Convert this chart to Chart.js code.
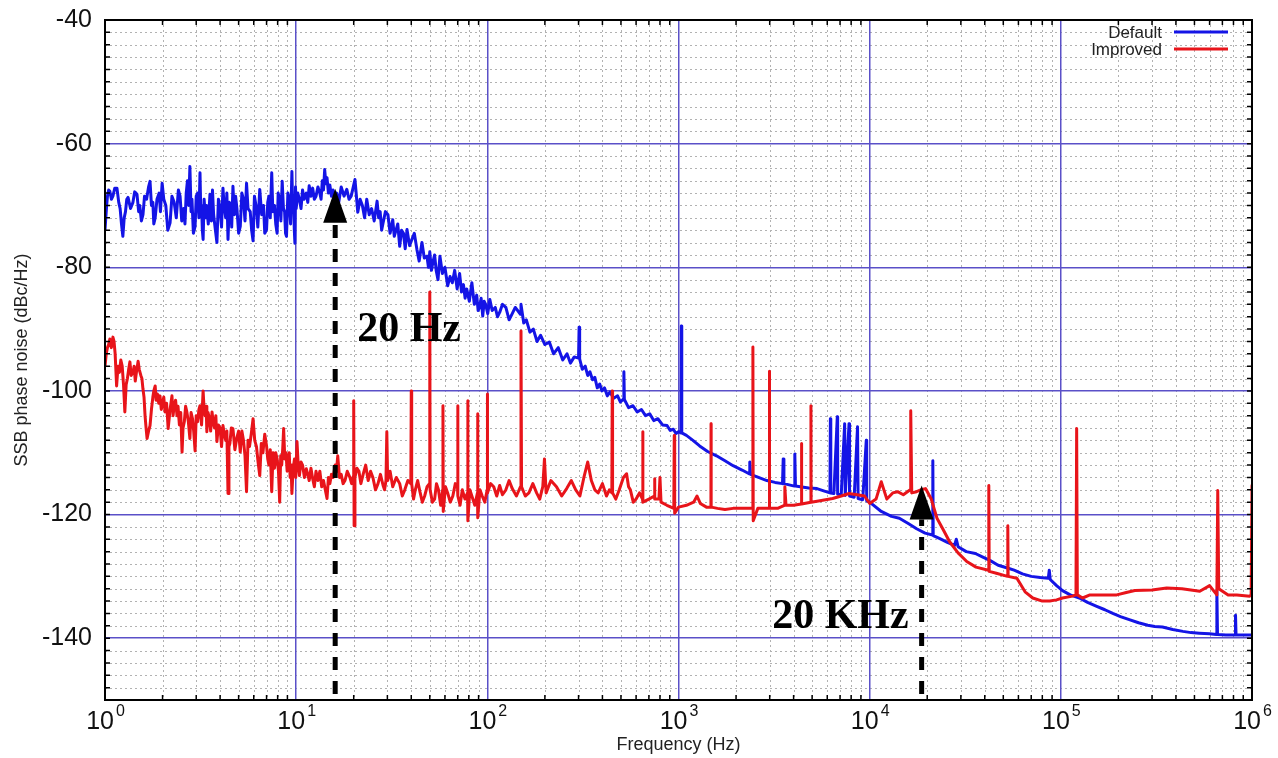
<!DOCTYPE html>
<html>
<head>
<meta charset="utf-8">
<title>SSB phase noise</title>
<script src="https://cdn.jsdelivr.net/npm/chart.js@4.4.1/dist/chart.umd.min.js"></script>
<style>
    html, body { margin: 0; padding: 0; background: #fff; }
    #wrap { width: 1278px; height: 758px; }
</style>
</head>
<body>
<div id="wrap"><canvas id="noiseChart" width="1278" height="758"></canvas></div>
<script>
// axis ticks
const decadeTicks = [1, 10, 100, 1000, 10000, 100000, 1000000];
const dbTicks = [-140, -120, -100, -80, -60, -40];

// [frequency Hz, dBc/Hz]
const defaultPoints = [
    [1, -73.9], [1.02, -70], [1.03, -68.5], [1.045, -67.5], [1.06, -67.7], [1.08, -69], [1.1, -68.5], [1.125, -67.2],
    [1.155, -67.2], [1.18, -69.5], [1.2, -70.5], [1.22, -73], [1.24, -75], [1.26, -72], [1.28, -71], [1.3, -69],
    [1.32, -68.7], [1.36, -70.5], [1.4, -69.5], [1.43, -67.8], [1.47, -68.2], [1.5, -71], [1.52, -70], [1.55, -72.5],
    [1.58, -71.5], [1.61, -68.5], [1.65, -69], [1.69, -67], [1.72, -66.1], [1.75, -70], [1.78, -69.5], [1.8, -73],
    [1.83, -72], [1.87, -69], [1.92, -68], [1.95, -71], [1.99, -66.4], [2.03, -69], [2.08, -70], [2.13, -74],
    [2.19, -72.8], [2.24, -68.5], [2.3, -69.5], [2.36, -72], [2.42, -67.5], [2.47, -68.5], [2.52, -72.5], [2.58, -70.5],
    [2.62, -73], [2.66, -68], [2.7, -66], [2.74, -70], [2.78, -63.7], [2.82, -71], [2.85, -69], [2.9, -74.5],
    [2.96, -73.4], [3, -68.5], [3.05, -68], [3.1, -72], [3.14, -64.7], [3.17, -71], [3.2, -70], [3.23, -74],
    [3.26, -75.5], [3.3, -69], [3.35, -72], [3.4, -70], [3.47, -73], [3.54, -68.2], [3.6, -72.5], [3.65, -67.5],
    [3.7, -71.5], [3.78, -74], [3.85, -76], [3.92, -69], [4, -70.5], [4.07, -73.5], [4.14, -67.2], [4.2, -70],
    [4.28, -72], [4.34, -68], [4.4, -75.5], [4.47, -69.5], [4.55, -70], [4.6, -73.5], [4.67, -66.9], [4.75, -71.5],
    [4.82, -68.5], [4.9, -70.5], [5, -74.5], [5.1, -73.4], [5.2, -68], [5.3, -69], [5.4, -72.5], [5.5, -66.4],
    [5.6, -70.5], [5.75, -71], [5.85, -74], [5.95, -75.7], [6.05, -68.5], [6.2, -70.5], [6.3, -73.5], [6.45, -67.4],
    [6.6, -71.5], [6.75, -70], [6.85, -74.5], [7, -73.9], [7.1, -69.5], [7.2, -68.5], [7.32, -72], [7.45, -64.7],
    [7.55, -71], [7.7, -70], [7.82, -73], [7.95, -74.5], [8.05, -68], [8.2, -69], [8.32, -72.5], [8.45, -66.1],
    [8.58, -70.5], [8.7, -71], [8.8, -74.5], [8.9, -75], [9.05, -68], [9.2, -69], [9.35, -73], [9.5, -64.5],
    [9.6, -71], [9.7, -70], [9.78, -74], [9.85, -76.1], [9.92, -67], [10, -70.5], [10.2, -68], [10.4, -69],
    [10.6, -70.5], [10.8, -67.5], [11, -69], [11.3, -68], [11.5, -69.5], [11.7, -66.8], [11.95, -68.5], [12.2, -67.2],
    [12.45, -69], [12.7, -68.5], [13, -67], [13.3, -68], [13.5, -69], [13.7, -66], [13.9, -67.5], [14.1, -64.2],
    [14.3, -66.5], [14.5, -65.5], [14.75, -68], [15, -66.7], [15.3, -68.5], [15.6, -67.5], [16, -69], [16.3, -68],
    [16.7, -69.5], [17.2, -67], [17.8, -68.5], [18.4, -67.4], [18.9, -69], [19.4, -68.5], [19.9, -67], [20.3, -65.8],
    [20.6, -68], [21, -71.1], [21.6, -69], [22.2, -70], [22.8, -72], [23.4, -69], [24.1, -71.5], [24.8, -70.5],
    [25.6, -72.5], [26.5, -69.3], [27, -72], [27.5, -71], [28, -74], [28.5, -72.8], [29.3, -71], [30.2, -71.5],
    [31, -74.5], [32, -72.3], [32.6, -75], [33.3, -74], [34, -73], [34.8, -76.6], [35.6, -74], [36.4, -74.5],
    [37.2, -77], [38, -73.9], [39.2, -76.5], [40.3, -75.5], [41.5, -74.5], [42.8, -77.1], [44, -79], [45.5, -76],
    [46.8, -78.5], [48.3, -78.2], [49.2, -80], [50, -77.5], [51, -80.5], [51.9, -79.2], [53, -78], [54, -80.5],
    [55.2, -82], [56.5, -78.2], [58.2, -81], [60, -80], [62, -83], [63.8, -81.5], [65.6, -82.5], [67.5, -80.5],
    [69.5, -83.5], [71.6, -81], [73.3, -84], [75, -82.8], [76.5, -85], [78, -83.5], [80.5, -85.5], [83, -82.5],
    [85.5, -86], [88, -84.5], [89.5, -87], [91, -86.5], [92.8, -85], [94.6, -87.9], [96.3, -85.5], [98, -86],
    [100.5, -87.5], [103, -85.2], [106, -87], [110, -86.5], [113, -88], [116, -87.3], [120, -86], [125, -86.5],
    [130, -88.5], [135, -87.5], [140, -86.5], [149, -87.6], [150, -86], [155, -89], [160, -88.5], [167, -90.5],
    [174, -90], [182, -92], [190, -91], [200, -92.5], [211, -92.1], [222, -94], [235, -93], [248, -95],
    [261, -94], [272, -95.5], [285, -94.5], [300, -94.7], [302, -89.7], [304, -94.8], [314, -96.5], [325, -96],
    [335, -97.5], [344, -96.9], [355, -98.2], [365, -97.8], [376, -99.5], [387, -98.9], [398, -100], [410, -99.5],
    [424, -100.8], [438, -100.2], [458, -101.2], [480, -100.8], [497, -101.8], [515, -101.3], [518, -96.9], [521, -101.4],
    [548, -102.7], [578, -102.4], [608, -103.4], [640, -103], [672, -104], [707, -103.7], [742, -104.8], [780, -104.5],
    [825, -105.5], [871, -105.6], [905, -106.4], [940, -106.2], [970, -106.9], [1000, -106.6], [1030, -106.8], [1035, -89.5],
    [1040, -106.8], [1100, -107.2], [1190, -108], [1290, -108.9], [1420, -109.8], [1580, -110.5], [1750, -111.3], [1930, -112.1],
    [2150, -112.8], [2340, -113.4], [2360, -111.5], [2380, -113.5], [2620, -114], [2900, -114.5], [3200, -114.8], [3500, -115],
    [3530, -111], [3560, -115], [4040, -115.4], [4060, -110.2], [4090, -115.4], [4330, -115.5], [4800, -115.7], [5300, -115.8],
    [5800, -116.2], [6200, -116.5], [6230, -104.5], [6260, -116.5], [6500, -116.6], [6770, -104.2], [6800, -116.7], [7100, -116.8],
    [7400, -105.3], [7450, -116.9], [7800, -105.3], [7850, -117], [8300, -117.2], [8640, -105.8], [8700, -117.4], [9200, -117.6],
    [9600, -108], [9650, -117.8], [10000, -118], [11500, -119.5], [13000, -120.3], [14300, -120.6], [16000, -121.5], [17600, -122.3],
    [19500, -123], [21300, -123.3], [21400, -111.3], [21500, -123.4], [23300, -123.9], [25500, -124.5], [27800, -125], [28400, -124],
    [29000, -125.2], [32000, -126], [35700, -126.3], [38600, -126.8], [43000, -127.5], [47000, -128.2], [52000, -128.6], [57000, -129],
    [63000, -129.6], [70000, -130], [78000, -130.2], [86000, -130.3], [87000, -129], [88000, -130.5], [95000, -131.5], [102000, -132.3],
    [112000, -133], [125000, -133.5], [138000, -134.2], [153000, -134.8], [170000, -135.4], [187000, -136], [205000, -136.5], [228000, -137],
    [255000, -137.5], [285000, -137.9], [310000, -138.1], [340000, -138.2], [385000, -138.6], [435000, -138.9], [480000, -139.1], [530000, -139.2],
    [600000, -139.3], [650000, -139.4], [655000, -132.4], [660000, -139.4], [730000, -139.5], [815000, -139.5], [820000, -136.3], [825000, -139.5],
    [900000, -139.5], [1000000, -139.5],
];

const improvedPoints = [
    [1, -96], [1.015, -94], [1.03, -93], [1.045, -92.5], [1.06, -91.6], [1.08, -93], [1.1, -91.3], [1.115, -92],
    [1.13, -94], [1.15, -99.2], [1.17, -96], [1.19, -97], [1.21, -95], [1.23, -96], [1.25, -99], [1.27, -103.4],
    [1.29, -99], [1.31, -98], [1.33, -96.5], [1.35, -95.3], [1.37, -97.5], [1.4, -97], [1.42, -96], [1.44, -98.4],
    [1.46, -97], [1.49, -95.2], [1.51, -96.5], [1.54, -97.5], [1.56, -98], [1.58, -99.7], [1.6, -101], [1.62, -104],
    [1.64, -106], [1.66, -107.7], [1.69, -106.5], [1.72, -105.6], [1.75, -103], [1.78, -101], [1.8, -100], [1.83, -99.2],
    [1.85, -101.5], [1.88, -100.5], [1.91, -102], [1.94, -100.8], [1.97, -103], [2, -102], [2.03, -101], [2.06, -103.4],
    [2.1, -102], [2.14, -106.1], [2.19, -103], [2.24, -100.8], [2.27, -104], [2.3, -102.5], [2.34, -101.5], [2.38, -104],
    [2.41, -102.5], [2.45, -105.5], [2.49, -103.5], [2.53, -109.9], [2.56, -106], [2.6, -105], [2.64, -102.5], [2.68, -103.4],
    [2.73, -105], [2.78, -107.7], [2.82, -103.5], [2.87, -104.5], [2.91, -106.5], [2.96, -109.7], [3, -104], [3.05, -105],
    [3.1, -103], [3.14, -102.4], [3.2, -105.5], [3.26, -100], [3.3, -103], [3.34, -104], [3.38, -102.5], [3.41, -106.6],
    [3.46, -103.5], [3.52, -104.5], [3.57, -106.5], [3.63, -103.4], [3.68, -105], [3.74, -106], [3.8, -104], [3.85, -108.2],
    [3.92, -105.5], [4, -106], [4.07, -109], [4.14, -105.6], [4.21, -107], [4.28, -108], [4.34, -106.5], [4.4, -116.6],
    [4.45, -109], [4.5, -108.5], [4.58, -106], [4.67, -106.1], [4.78, -109.5], [4.9, -107.5], [5, -106.5], [5.1, -109.9],
    [5.2, -106.5], [5.3, -108], [5.4, -110.5], [5.5, -116.3], [5.6, -108], [5.7, -109], [5.82, -107], [5.95, -104.5],
    [6.07, -108], [6.2, -109], [6.32, -111.5], [6.45, -113.7], [6.57, -108.5], [6.7, -110], [6.85, -107], [7, -108.9],
    [7.1, -111], [7.2, -112], [7.32, -109.5], [7.45, -116.3], [7.57, -110], [7.7, -112.5], [7.82, -110], [7.95, -111],
    [8.08, -113], [8.2, -118], [8.3, -110.5], [8.4, -112], [8.5, -109.5], [8.6, -106.1], [8.72, -111], [8.85, -110],
    [8.97, -113], [9.1, -112.2], [9.2, -110], [9.3, -114], [9.4, -112], [9.5, -116.6], [9.65, -112.5], [9.8, -111],
    [9.95, -114], [10.1, -108.2], [10.25, -112], [10.4, -113.7], [10.6, -111.5], [10.8, -112], [11.05, -114], [11.3, -112.6],
    [11.5, -113.5], [11.7, -114.5], [11.95, -112.5], [12.2, -114.2], [12.45, -115.5], [12.7, -113], [13, -114.5], [13.3, -113],
    [13.6, -115.5], [13.9, -114.5], [14.2, -116], [14.5, -117.4], [14.75, -114], [15, -115], [15.3, -113.5], [15.6, -114],
    [15.8, -113], [16, -112], [16.25, -113], [16.5, -110.5], [16.85, -114], [17.2, -113.5], [17.6, -115], [18, -114.5],
    [18.5, -113], [19.1, -114], [19.5, -115], [19.9, -113.8], [20, -101.6], [20.1, -121.8], [20.3, -114], [20.8, -112.5],
    [21.3, -113], [21.8, -115], [22.4, -113.5], [23.1, -112], [23.8, -114.5], [24.5, -113], [25.2, -114], [26, -116],
    [26.8, -115], [27.6, -113.5], [28.5, -115.3], [29, -116], [29.5, -114.5], [29.8, -106.6], [30.1, -114.5], [31, -113],
    [32, -115.5], [33.4, -114], [34.8, -115], [35.9, -117], [37, -116], [38.4, -114.5], [39.8, -115], [40, -100],
    [40.2, -115], [41.1, -117.5], [42, -116], [43.2, -114.5], [44.4, -116.3], [45.7, -118], [47, -117], [48.4, -115.5],
    [49.8, -115], [50, -84], [50.2, -116], [51.6, -118], [53, -117.5], [54.2, -115], [55.5, -116], [57, -118.5],
    [58.4, -116], [58.6, -102.4], [58.8, -119.5], [60.4, -115.5], [62, -116.5], [64, -118], [66, -117], [68, -115],
    [69.8, -115.5], [70, -102.4], [70.2, -117], [72, -118.5], [74, -116], [76.4, -117.5], [78.8, -116.5], [79, -101.6],
    [79.2, -121], [81, -116], [83, -117], [86, -118.5], [88.8, -116.5], [89, -103.7], [89.2, -120.5], [91.5, -116],
    [94, -117], [97, -118], [99.8, -116], [100, -100.5], [100.3, -116.5], [104, -115], [108, -115.5], [112, -117],
    [116, -115.3], [120, -116.8], [125, -116], [130, -114.5], [135, -115.8], [142, -117], [149, -115.5], [150, -90.3],
    [151, -115.5], [158, -117], [165, -116.5], [173, -115], [181, -116.5], [188, -117.5], [195, -115.5], [199, -111],
    [203, -116.5], [215, -114.5], [230, -115.5], [245, -117], [260, -115.8], [275, -114.5], [290, -116], [305, -117],
    [320, -114], [335, -111.5], [350, -114.5], [365, -116], [380, -116.5], [400, -115], [420, -117], [435, -116],
    [448, -116.5], [450, -100], [452, -116.5], [470, -117.5], [490, -116], [515, -114], [535, -113.4], [548, -115.5],
    [560, -116], [580, -118], [600, -117.5], [625, -116.5], [648, -117.5], [650, -106.6], [652, -118], [700, -117.5],
    [748, -117], [750, -114.2], [752, -117.5], [790, -117.5], [800, -114], [810, -118], [870, -118.5], [945, -119],
    [950, -107.2], [955, -119.8], [1000, -118.8], [1100, -118.5], [1200, -118], [1250, -117], [1300, -118.2], [1400, -118.8],
    [1478, -118.8], [1480, -105.3], [1482, -118.8], [1600, -119], [1750, -119.2], [1930, -119], [2150, -119], [2440, -119],
    [2450, -92.9], [2460, -121], [2600, -119], [2985, -119], [2990, -96.8], [2995, -119], [3300, -119], [3580, -118.5],
    [3600, -115.5], [3650, -118.5], [4000, -118.5], [4390, -118.3], [4400, -108.5], [4410, -118.3], [4920, -118], [4930, -102.4],
    [4940, -118], [5400, -117.8], [6400, -117.4], [7100, -117], [7800, -116.6], [8600, -116.8], [9400, -117], [10000, -118.2],
    [10800, -117.5], [11500, -114.7], [12300, -117.5], [13200, -116.5], [14000, -116.3], [15000, -116.8], [16300, -116], [16400, -103.2],
    [16600, -116.5], [17600, -116.3], [18500, -116], [19600, -115.8], [21000, -117.5], [22500, -120.6], [24300, -122.5], [26200, -124.4],
    [29000, -126.2], [32200, -127.6], [36000, -128.5], [41800, -129], [42000, -115.3], [42200, -129.2], [46000, -129.5], [52600, -130],
    [52800, -121.8], [53000, -130], [58900, -130.3], [65000, -132.5], [71300, -133.5], [80000, -134], [87500, -134], [95000, -133.8],
    [102000, -133.5], [115000, -133.2], [120000, -133], [121000, -106.1], [122000, -133], [130000, -133.5], [142000, -133], [170000, -133],
    [196000, -133], [220000, -132.6], [244000, -132.3], [300000, -132.2], [358000, -131.9], [430000, -132], [533000, -132.4], [600000, -131.5],
    [655000, -133], [662000, -116.1], [670000, -132], [750000, -133], [833000, -133], [973000, -133.2], [990000, -133], [1000000, -115.3],
];

// annotation arrows
const arrowFreq = [16, 18700];
const arrowTipDb = [-67.3, -115.3];
const arrowLabels = ['20 Hz', '20 KHz'];
const arrowLabelDb = [-91.9, -138.4];

const MAJOR_GRID = '#5a50c8';
const MINOR_GRID = '#b2b2b2';

function minorFrequencies() {
    const list = [];
    decadeTicks.slice(0, -1).forEach((d) => {
        for (let m = 2; m <= 9; m++) {
            list.push(d * m);
        }
    });
    return list;
}

const minorGrid = {
    id: 'minorGrid',
    beforeDraw(chart) {
        const { ctx, chartArea: a, scales: { x, y } } = chart;

        ctx.save();
        ctx.fillStyle = '#fff';
        ctx.fillRect(0, 0, chart.width, chart.height);
        ctx.strokeStyle = MINOR_GRID;
        ctx.lineWidth = 1;
        ctx.setLineDash([2, 3]);
        ctx.beginPath();

        minorFrequencies().forEach((f) => {
            const px = Math.round(x.getPixelForValue(f)) + 0.5;
            ctx.moveTo(px, a.top);
            ctx.lineTo(px, a.bottom);
        });

        for (let v = -148; v < -40; v += 2) {
            if (v % 20 === 0) {
                continue;
            }
            const py = Math.round(y.getPixelForValue(v)) + 0.5;
            ctx.moveTo(a.left, py);
            ctx.lineTo(a.right, py);
        }

        ctx.stroke();
        ctx.restore();
    },
};

const frameAndNotes = {
    id: 'frameAndNotes',
    afterDraw(chart) {
        const { ctx, chartArea: a, scales: { x, y } } = chart;

        ctx.save();

        // plot frame and inner tick marks
        ctx.strokeStyle = '#000';
        ctx.lineWidth = 2;
        ctx.strokeRect(a.left, a.top, a.right - a.left, a.bottom - a.top);

        ctx.lineWidth = 1.5;
        ctx.beginPath();
        minorFrequencies().forEach((f) => {
            const px = x.getPixelForValue(f);
            ctx.moveTo(px, a.bottom);
            ctx.lineTo(px, a.bottom - 5);
            ctx.moveTo(px, a.top);
            ctx.lineTo(px, a.top + 5);
        });
        for (let v = -148; v < -40; v += 2) {
            const py = y.getPixelForValue(v);
            ctx.moveTo(a.left, py);
            ctx.lineTo(a.left + 5, py);
            ctx.moveTo(a.right, py);
            ctx.lineTo(a.right - 5, py);
        }
        ctx.stroke();

        // x tick labels with superscript exponents
        ctx.fillStyle = '#111';
        ctx.textBaseline = 'alphabetic';
        decadeTicks.forEach((v, k) => {
            const px = x.getPixelForValue(v);
            ctx.font = '25px "Liberation Sans", Arial, sans-serif';
            ctx.textAlign = 'right';
            ctx.fillText('10', px + 9, a.bottom + 29);
            ctx.font = '16px "Liberation Sans", Arial, sans-serif';
            ctx.textAlign = 'left';
            ctx.fillText(String(k), px + 11, a.bottom + 16);
        });

        // legend
        const legendRows = [
            { text: 'Default', color: '#1414e6' },
            { text: 'Improved', color: '#e8141a' },
        ];
        ctx.font = '17px "Liberation Sans", Arial, sans-serif';
        ctx.textAlign = 'right';
        legendRows.forEach((row, i) => {
            const ly = 32 + i * 17;
            ctx.fillStyle = '#222';
            ctx.fillText(row.text, 1162, ly + 6);
            ctx.strokeStyle = row.color;
            ctx.lineWidth = 3;
            ctx.beginPath();
            ctx.moveTo(1174, ly);
            ctx.lineTo(1228, ly);
            ctx.stroke();
        });

        // dashed arrows with labels
        ctx.fillStyle = '#000';
        ctx.strokeStyle = '#000';
        arrowFreq.forEach((f, i) => {
            const px = x.getPixelForValue(f);
            const tip = y.getPixelForValue(arrowTipDb[i]);
            const headH = 34;
            const headW = 12;

            ctx.lineWidth = 5;
            ctx.setLineDash([13, 11]);
            ctx.beginPath();
            ctx.moveTo(px, a.bottom - 6);
            ctx.lineTo(px, tip + headH);
            ctx.stroke();
            ctx.setLineDash([]);

            ctx.beginPath();
            ctx.moveTo(px, tip);
            ctx.lineTo(px - headW, tip + headH);
            ctx.lineTo(px + headW, tip + headH);
            ctx.closePath();
            ctx.fill();

            ctx.font = 'bold 42px "Liberation Serif", "Times New Roman", serif';
            const ly = y.getPixelForValue(arrowLabelDb[i]);
            if (i === 0) {
                ctx.textAlign = 'left';
                ctx.fillText(arrowLabels[i], px + 22, ly);
            } else {
                ctx.textAlign = 'right';
                ctx.fillText(arrowLabels[i], px - 13, ly);
            }
        });

        ctx.restore();
    },
};

function toXY(points) {
    return points.map(([f, db]) => ({ x: f, y: db }));
}

document.addEventListener('DOMContentLoaded', () => {
    Chart.defaults.font.family = '"Liberation Sans", Arial, sans-serif';
    Chart.defaults.color = '#111';

    new Chart(document.getElementById('noiseChart'), {
        type: 'line',
        data: {
            datasets: [
                {
                    label: 'Improved',
                    data: toXY(improvedPoints),
                    borderColor: '#e8141a',
                    borderWidth: 3,
                    order: 0,
                },
                {
                    label: 'Default',
                    data: toXY(defaultPoints),
                    borderColor: '#1414e6',
                    borderWidth: 3,
                    order: 1,
                },
            ],
        },
        options: {
            responsive: false,
            animation: false,
            layout: {
                padding: { top: 20, right: 26, left: 0, bottom: 0 },
            },
            elements: {
                point: { radius: 0 },
                line: { tension: 0, borderJoinStyle: 'round', borderCapStyle: 'round' },
            },
            plugins: {
                legend: { display: false },
                tooltip: { enabled: false },
            },
            scales: {
                x: {
                    type: 'logarithmic',
                    min: 1,
                    max: 1000000,
                    afterBuildTicks: (scale) => {
                        scale.ticks = decadeTicks.map((v) => ({ value: v }));
                    },
                    afterFit: (scale) => {
                        scale.height = 58;
                        scale.paddingLeft = 0;
                        scale.paddingRight = 0;
                    },
                    ticks: { display: false },
                    grid: { color: MAJOR_GRID, lineWidth: 1.5, drawTicks: false },
                    border: { display: false },
                    title: {
                        display: true,
                        text: 'Frequency (Hz)',
                        color: '#222',
                        font: { size: 18 },
                        padding: { top: 0, bottom: 2 },
                    },
                },
                y: {
                    type: 'linear',
                    min: -150,
                    max: -40,
                    afterBuildTicks: (scale) => {
                        scale.ticks = dbTicks.map((v) => ({ value: v }));
                    },
                    afterFit: (scale) => {
                        scale.width = 105;
                        scale.paddingTop = 0;
                        scale.paddingBottom = 0;
                    },
                    ticks: {
                        color: '#111',
                        padding: 13,
                        font: { size: 25 },
                    },
                    grid: { color: MAJOR_GRID, lineWidth: 1.5, drawTicks: false },
                    border: { display: false },
                    title: {
                        display: true,
                        text: 'SSB phase noise (dBc/Hz)',
                        color: '#222',
                        font: { size: 18 },
                        padding: { top: 11, bottom: 0 },
                    },
                },
            },
        },
        plugins: [minorGrid, frameAndNotes],
    });
});
</script>
</body>
</html>
